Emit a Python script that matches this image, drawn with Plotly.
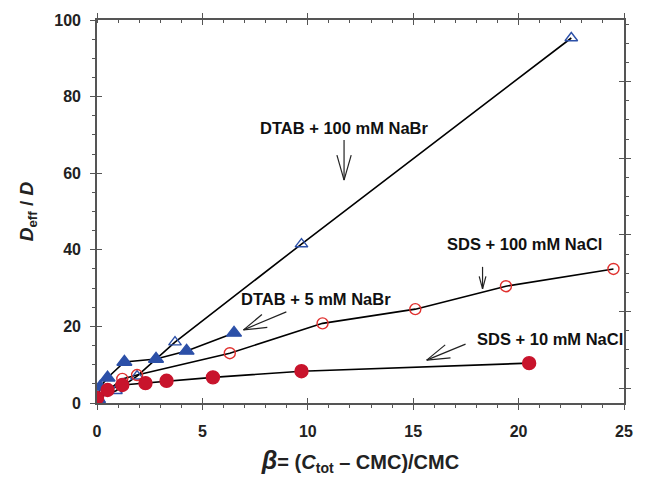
import math
import plotly.graph_objects as go

# ---- data ----
dtab100_x = [0.05, 0.9, 1.9, 3.7, 9.7, 22.5]
dtab100_y = [1.3, 3.2, 7.0, 15.9, 41.5, 95.3]

dtab5_x = [0.05, 0.15, 0.5, 1.3, 2.8, 4.25, 6.5]
dtab5_y = [1.0, 4.2, 6.6, 10.7, 11.5, 13.6, 18.3]

sds100_x = [0.0, 1.2, 1.9, 6.3, 10.7, 15.1, 19.4, 24.5]
sds100_y = [1.0, 6.3, 7.3, 13.0, 20.8, 24.5, 30.5, 35.0]

sds10_x = [0.0, 0.5, 1.2, 2.3, 3.3, 5.5, 9.7, 20.5]
sds10_y = [1.3, 3.4, 4.7, 5.2, 5.8, 6.7, 8.3, 10.4]

x_ticks = [0, 5, 10, 15, 20, 25]
y_ticks = [0, 20, 40, 60, 80, 100]

x_range = [0, 25]
y_range = [0, 100]
y_right_range = [-3.9, 96.1]

W, H = 645, 483
ML, MR, MT, MB = 97, 19, 20, 80
PX_X = (W - ML - MR) / (x_range[1] - x_range[0])
PX_Y = (H - MT - MB) / (y_range[1] - y_range[0])

BLUE = "#2c50a8"
RED_FILL = "#c8142c"
RED_OPEN = "#e0302e"
FONT = "Arial, Liberation Sans, Helvetica, sans-serif"
AX = "#555555"

fig = go.Figure()

series = [
    (dtab100_x, dtab100_y, "triangle-up-open", BLUE, 11),
    (sds100_x, sds100_y, "circle-open", RED_OPEN, 11),
    (dtab5_x, dtab5_y, "triangle-up", BLUE, 13),
    (sds10_x, sds10_y, "circle", RED_FILL, 13),
]

# lines first (below markers)
for xs, ys, sym, col, sz in series:
    fig.add_trace(go.Scatter(x=xs, y=ys, mode="lines",
                             line=dict(color="black", width=1.6),
                             showlegend=False, hoverinfo="skip"))
for xs, ys, sym, col, sz in series:
    fig.add_trace(go.Scatter(x=xs, y=ys, mode="markers",
                             marker=dict(symbol=sym, size=sz, color=col,
                                         line=dict(color=col, width=1.4)),
                             showlegend=False))

# dummy traces so overlay axes are drawn
for xa, ya in [("x2", "y"), ("x3", "y"), ("x4", "y"), ("x", "y2"), ("x", "y3"), ("x", "y4")]:
    fig.add_trace(go.Scatter(x=[None], y=[None], xaxis=xa, yaxis=ya,
                             showlegend=False, hoverinfo="skip"))

tickfont = dict(family=FONT, size=16, color="#222222")
common = dict(showgrid=False, zeroline=False, fixedrange=True, tickcolor=AX,
              tickwidth=1.3, linecolor=AX, linewidth=1.6)

fig.update_layout(
    width=W, height=H,
    margin=dict(l=ML, r=MR, t=MT, b=MB),
    paper_bgcolor="white", plot_bgcolor="white",
    xaxis=dict(range=x_range, tickmode="array", tickvals=x_ticks,
               ticktext=[f"<b>{v}</b>" for v in x_ticks],
               ticks="outside", ticklen=5,
               showline=True, tickfont=tickfont, ticklabelstandoff=8,
               minor=dict(tick0=0, dtick=1, ticks="outside", ticklen=3, tickcolor=AX, tickwidth=1.2),
               title=dict(text="<b><i><span style='font-size:25px'>β</span></i>= (<i>C</i><sub>tot</sub> – CMC)/CMC</b>",
                          font=dict(family=FONT, size=20, color="#222222"), standoff=16),
               **common),
    xaxis2=dict(range=x_range, overlaying="x", side="bottom", anchor="y", tick0=0, dtick=5,
                ticks="inside", ticklen=5, showticklabels=False, showline=False, **common),
    xaxis3=dict(range=x_range, overlaying="x", side="top", anchor="y", tick0=0, dtick=5,
                ticks="outside", ticklen=5, showticklabels=False, showline=True,
                minor=dict(dtick=1, ticks="inside", ticklen=3, tickcolor=AX, tickwidth=1.2),
                **common),
    xaxis4=dict(range=x_range, overlaying="x", side="top", anchor="y", tick0=0, dtick=5,
                ticks="inside", ticklen=5, showticklabels=False, showline=False, **common),
    yaxis=dict(range=y_range, tickmode="array", tickvals=y_ticks,
               ticktext=[f"<b>{v}</b>" for v in y_ticks],
               ticks="outside", ticklen=5,
               showline=True, tickfont=tickfont, ticklabelstandoff=6,
               minor=dict(tick0=0, dtick=5, ticks="outside", ticklen=3, tickcolor=AX, tickwidth=1.2),
               title=dict(text="<b><i>D</i><sub>eff</sub> / <i>D</i></b>",
                          font=dict(family=FONT, size=19, color="#222222"), standoff=16),
               **common),
    yaxis2=dict(range=y_range, overlaying="y", side="left", anchor="x", tick0=0, dtick=20,
                ticks="inside", ticklen=5, showticklabels=False, showline=False, **common),
    yaxis3=dict(range=y_right_range, overlaying="y", side="right", anchor="x", tick0=0, dtick=20,
                ticks="outside", ticklen=5, showticklabels=False, showline=True,
                minor=dict(dtick=5, ticks="outside", ticklen=3, tickcolor=AX, tickwidth=1.2),
                **common),
    yaxis4=dict(range=y_right_range, overlaying="y", side="right", anchor="x", tick0=0, dtick=20,
                ticks="inside", ticklen=5, showticklabels=False, showline=False, **common),
)

labfont = dict(family=FONT, size=16.5, color="#111111")
labels = [
    ("<b>DTAB + 100 mM NaBr</b>", 11.72, 71.8),
    ("<b>SDS + 100 mM NaCl</b>", 20.3, 41.5),
    ("<b>DTAB + 5 mM NaBr</b>", 10.4, 27.1),
    ("<b>SDS + 10 mM NaCl</b>", 21.5, 16.7),
]
for txt, lx, ly in labels:
    fig.add_annotation(x=lx, y=ly, text=txt, showarrow=False, font=labfont,
                       xanchor="center", yanchor="middle")

# arrows: tip (data), tail offset (px), arm length (px), half-angle (deg)
arrows = [
    (11.72, 58.2, 0, -40, 26, 16),
    (18.29, 29.8, 0, -22, 13, 15),
    (6.95, 19.1, 43, -18, 24, 17),
    (15.64, 11.2, 39, -16, 24, 17),
]
aline = dict(color="#222222", width=1.2)
for tx, ty, dx, dy, L, th in arrows:
    def to_data(ox, oy):
        return tx + ox / PX_X, ty - oy / PX_Y
    x0, y0 = to_data(dx, dy)
    fig.add_shape(type="line", x0=x0, y0=y0, x1=tx, y1=ty, line=aline)
    n = math.hypot(dx, dy)
    ux, uy = dx / n, dy / n
    for s in (1, -1):
        a = math.radians(th) * s
        rx = ux * math.cos(a) - uy * math.sin(a)
        ry = ux * math.sin(a) + uy * math.cos(a)
        x1, y1 = to_data(rx * L, ry * L)
        fig.add_shape(type="line", x0=x1, y0=y1, x1=tx, y1=ty, line=aline)

fig.write_html("out.html")
